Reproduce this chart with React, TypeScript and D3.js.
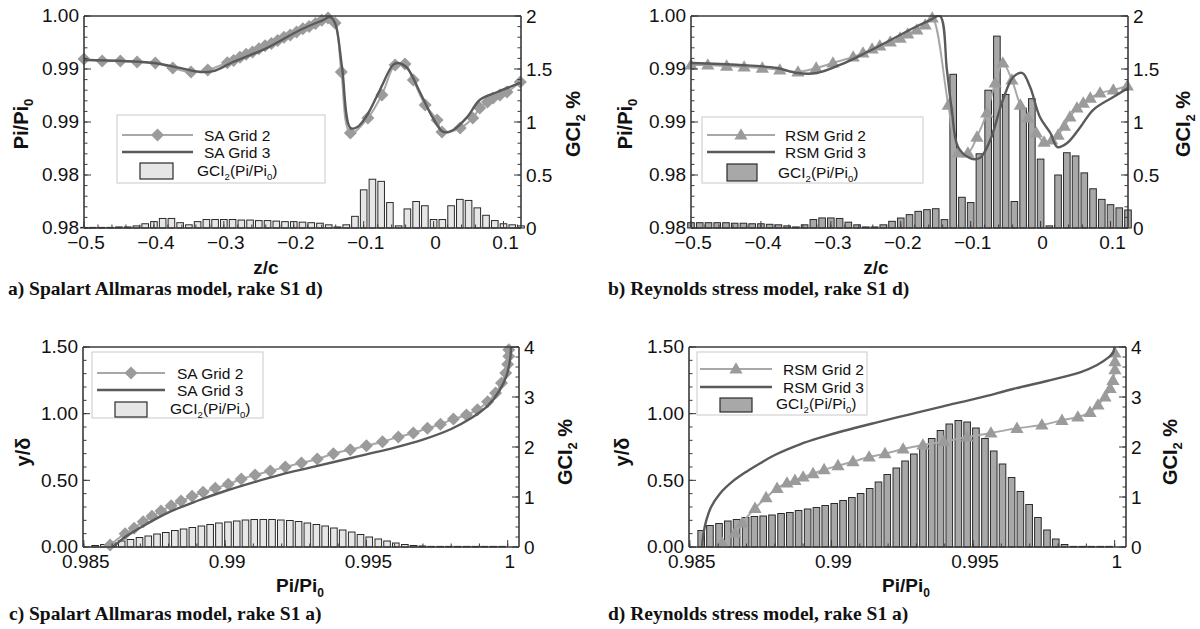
import React from "react";
import * as d3 from "d3";

// ---- rake S1 d) : spanwise stations (z/c) and GCI bars
const zStations = [-0.5, -0.4875, -0.475, -0.4625, -0.45, -0.4375, -0.425, -0.4125, -0.4, -0.3875, -0.375, -0.3625, -0.35, -0.3375, -0.325, -0.3125, -0.3, -0.2875, -0.275, -0.2625, -0.25, -0.2375, -0.225, -0.2125, -0.2, -0.1875, -0.175, -0.1625, -0.15, -0.1375, -0.125, -0.1125, -0.1, -0.0875, -0.075, -0.0625, -0.05, -0.0375, -0.025, -0.0125, 0, 0.0125, 0.025, 0.0375, 0.05, 0.0625, 0.075, 0.0875, 0.1, 0.1125, 0.125];
const gciSaS1d = [0.005, 0.005, 0.005, 0.005, 0.01, 0.01, 0.02, 0.04, 0.06, 0.09, 0.09, 0.05, 0.03, 0.06, 0.08, 0.08, 0.08, 0.08, 0.075, 0.075, 0.07, 0.07, 0.065, 0.06, 0.06, 0.055, 0.05, 0.045, 0.03, 0.01, 0.03, 0.11, 0.36, 0.46, 0.44, 0.24, 0.02, 0.18, 0.25, 0.21, 0.08, 0.08, 0.21, 0.27, 0.26, 0.19, 0.12, 0.07, 0.04, 0.03, 0.02];
const gciRsmS1d = [0.05, 0.05, 0.05, 0.05, 0.05, 0.045, 0.045, 0.04, 0.04, 0.035, 0.03, 0.02, 0.01, 0.03, 0.08, 0.095, 0.095, 0.09, 0.055, 0.03, 0.01, 0.01, 0.03, 0.063, 0.094, 0.126, 0.157, 0.173, 0.182, 0.079, 1.45, 0.29, 0.24, 0.7, 1.3, 1.81, 1.26, 0.25, 1.13, 1.22, 0.65, 0.02, 0.5, 0.71, 0.68, 0.52, 0.37, 0.27, 0.22, 0.19, 0.17];

const saG2Z = [-0.5, -0.474, -0.448, -0.424, -0.398, -0.373, -0.347, -0.323, -0.295, -0.286, -0.277, -0.268, -0.259, -0.25, -0.241, -0.232, -0.223, -0.214, -0.205, -0.196, -0.187, -0.178, -0.169, -0.16, -0.151, -0.141, -0.132, -0.119, -0.094, -0.074, -0.055, -0.041, -0.029, -0.012, 0.005, 0.012, 0.038, 0.056, 0.066, 0.077, 0.085, 0.095, 0.105, 0.124];
const saG2Pi = [0.99594, 0.99575, 0.99575, 0.99566, 0.99557, 0.9951, 0.99472, 0.99491, 0.9956, 0.9958, 0.9961, 0.9964, 0.9966, 0.9969, 0.9972, 0.9974, 0.9977, 0.998, 0.9982, 0.9985, 0.9988, 0.999, 0.9993, 0.9996, 0.9998, 0.99934, 0.99472, 0.98896, 0.99038, 0.99255, 0.99538, 0.99547, 0.99396, 0.9916, 0.99019, 0.98906, 0.98943, 0.99038, 0.99132, 0.99189, 0.99226, 0.99255, 0.99283, 0.99377];
const saG3Z = [-0.5, -0.401, -0.363, -0.334, -0.315, -0.287, -0.238, -0.191, -0.158, -0.148, -0.141, -0.131, -0.119, -0.109, -0.095, -0.077, -0.058, -0.051, -0.038, -0.019, -0.001, 0.014, 0.028, 0.048, 0.066, 0.091, 0.124];
const saG3Pi = [0.99585, 0.99557, 0.9951, 0.99472, 0.9948, 0.99566, 0.997, 0.99868, 0.99962, 0.9999, 0.99934, 0.99519, 0.98943, 0.98953, 0.99066, 0.993, 0.99538, 0.99557, 0.9951, 0.99274, 0.99038, 0.98906, 0.98925, 0.99047, 0.99208, 0.99283, 0.99368];

const rsmG2Z = [-0.5, -0.476, -0.449, -0.424, -0.398, -0.373, -0.347, -0.321, -0.297, -0.268, -0.254, -0.241, -0.23, -0.215, -0.201, -0.19, -0.177, -0.165, -0.155, -0.132, -0.118, -0.104, -0.091, -0.077, -0.065, -0.054, -0.041, -0.029, -0.018, -0.006, 0.005, 0.016, 0.025, 0.034, 0.042, 0.052, 0.061, 0.071, 0.085, 0.104, 0.124];
const rsmG2Pi = [0.99538, 0.99538, 0.99528, 0.99519, 0.99509, 0.99491, 0.99472, 0.99509, 0.99557, 0.99613, 0.99651, 0.99689, 0.99717, 0.99755, 0.99792, 0.9983, 0.99868, 0.99915, 0.99981, 0.9916, 0.98708, 0.98708, 0.98858, 0.99085, 0.99368, 0.99557, 0.99396, 0.9916, 0.99038, 0.98896, 0.98811, 0.9883, 0.98877, 0.98962, 0.99047, 0.99132, 0.99179, 0.99226, 0.99274, 0.99302, 0.9934];
const rsmG3Z = [-0.5, -0.43, -0.377, -0.348, -0.32, -0.287, -0.248, -0.201, -0.182, -0.158, -0.144, -0.134, -0.127, -0.118, -0.101, -0.087, -0.072, -0.054, -0.039, -0.026, -0.015, -0.001, 0.014, 0.024, 0.038, 0.057, 0.075, 0.104, 0.125];
const rsmG3Pi = [0.99557, 0.99538, 0.99509, 0.99462, 0.99462, 0.99538, 0.9966, 0.99821, 0.99887, 0.99962, 1.0, 0.99491, 0.99113, 0.98764, 0.9866, 0.9866, 0.9883, 0.99208, 0.99425, 0.99462, 0.9933, 0.99047, 0.98896, 0.98764, 0.98802, 0.98953, 0.99113, 0.99236, 0.99321];

// ---- rake S1 a) : profiles over Pi/Pi0 and GCI bars
const piStations = [0.9854, 0.98571, 0.98603, 0.98634, 0.98665, 0.98697, 0.98728, 0.98759, 0.9879, 0.98822, 0.98853, 0.98884, 0.98916, 0.98947, 0.98978, 0.9901, 0.99041, 0.99072, 0.99103, 0.99135, 0.99166, 0.99197, 0.99229, 0.9926, 0.99291, 0.99323, 0.99354, 0.99385, 0.99416, 0.99448, 0.99479, 0.9951, 0.99542, 0.99573, 0.99604, 0.99636, 0.99667, 0.99698, 0.99729, 0.99761, 0.99792, 0.99823, 0.99855, 0.99886, 0.99917, 0.99949, 0.9998];
const gciSaS1a = [0.03, 0.05, 0.08, 0.12, 0.15, 0.19, 0.22, 0.26, 0.29, 0.33, 0.36, 0.39, 0.42, 0.45, 0.48, 0.5, 0.52, 0.54, 0.55, 0.55, 0.55, 0.54, 0.53, 0.51, 0.48, 0.45, 0.42, 0.38, 0.34, 0.3, 0.25, 0.2, 0.16, 0.12, 0.08, 0.05, 0.03, 0.02, 0.01, 0.005, 0.005, 0.005, 0.005, 0.005, 0.005, 0.005, 0.005];
const gciRsmS1a = [0.33, 0.43, 0.47, 0.52, 0.55, 0.59, 0.61, 0.62, 0.64, 0.67, 0.69, 0.73, 0.76, 0.79, 0.83, 0.87, 0.93, 0.99, 1.07, 1.17, 1.3, 1.45, 1.58, 1.72, 1.86, 2.0, 2.17, 2.33, 2.46, 2.53, 2.5, 2.38, 2.17, 1.92, 1.66, 1.39, 1.11, 0.85, 0.59, 0.34, 0.16, 0.05, 0.01, 0.01, 0.01, 0.01, 0.01];

const saG2PiA = [0.98593, 0.98646, 0.98678, 0.9871, 0.98741, 0.98773, 0.98809, 0.98844, 0.98883, 0.98922, 0.98965, 0.99011, 0.99057, 0.99106, 0.9916, 0.99213, 0.9927, 0.99326, 0.99383, 0.99443, 0.995, 0.99557, 0.99613, 0.99666, 0.99716, 0.99762, 0.99808, 0.99854, 0.99893, 0.99929, 0.99957, 0.99978, 0.99993, 1.0, 1.00004, 1.00004];
const saG2YA = [0.015, 0.1, 0.14, 0.19, 0.23, 0.27, 0.31, 0.345, 0.38, 0.41, 0.44, 0.47, 0.51, 0.54, 0.57, 0.6, 0.63, 0.66, 0.7, 0.73, 0.76, 0.79, 0.825, 0.855, 0.89, 0.92, 0.96, 0.99, 1.03, 1.09, 1.155, 1.23, 1.305, 1.37, 1.43, 1.48];
const saG3PiA = [0.98603, 0.9865, 0.9872, 0.988, 0.989, 0.99, 0.991, 0.992, 0.993, 0.994, 0.995, 0.996, 0.997, 0.998, 0.9987, 0.9993, 0.9997, 0.99995, 1.00008, 1.00012];
const saG3YA = [0, 0.08, 0.17, 0.26, 0.345, 0.42, 0.485, 0.545, 0.595, 0.645, 0.695, 0.745, 0.805, 0.885, 0.965, 1.06, 1.17, 1.28, 1.4, 1.5];

const rsmG2PiA = [0.98614, 0.98659, 0.98684, 0.9873, 0.98769, 0.98808, 0.98843, 0.98871, 0.989, 0.98935, 0.98974, 0.99023, 0.99076, 0.99133, 0.99189, 0.99253, 0.99323, 0.99397, 0.99479, 0.99563, 0.99655, 0.99743, 0.99814, 0.9987, 0.99913, 0.99941, 0.99966, 0.99984, 0.99994, 1.00001, 1.00001, 1.00001];
const rsmG2YA = [0.03, 0.105, 0.18, 0.29, 0.37, 0.44, 0.48, 0.5, 0.525, 0.55, 0.58, 0.61, 0.64, 0.675, 0.7, 0.735, 0.765, 0.79, 0.825, 0.855, 0.89, 0.915, 0.95, 0.975, 1.01, 1.065, 1.125, 1.19, 1.25, 1.33, 1.39, 1.455];
const rsmG3PiA = [0.98543, 0.98548, 0.98558, 0.98575, 0.98606, 0.9865, 0.987, 0.9875, 0.988, 0.98889, 0.9896, 0.99041, 0.99161, 0.99277, 0.99394, 0.99524, 0.99641, 0.99761, 0.99878, 0.99938, 0.99977, 0.99995, 0.99999];
const rsmG3YA = [0, 0.1, 0.2, 0.3, 0.4, 0.49, 0.565, 0.63, 0.69, 0.77, 0.82, 0.87, 0.935, 0.995, 1.055, 1.12, 1.185, 1.245, 1.31, 1.365, 1.42, 1.46, 1.5];

// ---- ticks
const zTicks = [-0.5, -0.4, -0.3, -0.2, -0.1, 0, 0.1];
const zTickLabels = ["\u22120.5", "\u22120.4", "\u22120.3", "\u22120.2", "\u22120.1", "0", "0.1"];
const ratioTicks = [0.98, 0.985, 0.99, 0.995, 1.0];
const ratioTickLabels = ["0.98", "0.98", "0.99", "0.99", "1.00"];
const gciTicksD = [0, 0.5, 1, 1.5, 2];
const gciTickLabelsD = ["0", "0.5", "1", "1.5", "2"];
const piTicks = [0.985, 0.99, 0.995, 1];
const piTickLabels = ["0.985", "0.99", "0.995", "1"];
const yTicks = [0, 0.5, 1, 1.5];
const yTickLabels = ["0.00", "0.50", "1.00", "1.50"];
const gciTicksA = [0, 1, 2, 3, 4];
const gciTickLabelsA = ["0", "1", "2", "3", "4"];

const SANS = "'Liberation Sans', Arial, Helvetica, sans-serif";
const SERIF = "'Liberation Serif', 'Times New Roman', serif";
const AXIS = "#3a3a3a";
const G2_LINE = "#a8a8a8";
const G2_MARK = "#9b9b9b";
const G3_LINE = "#5a5a5a";
const MARKS: Record<string, string> = {
  diamond: "M0,-6.5L6.5,0L0,6.5L-6.5,0Z",
  triangle: "M0,-6.8L6.6,4.6L-6.6,4.6Z",
};

const minor = (a: number, b: number, step: number) =>
  d3.range(Math.round((b - a) / step) + 1).map((i) => a + i * step);

function Gci({ x, y, size }: { x: number; y: number; size: number }) {
  const s = size * 0.62;
  return (
    <text x={x} y={y} fontSize={size} fontFamily={SANS} fill="#111">
      GCI<tspan dy={4} fontSize={s}>2</tspan>
      <tspan dy={-4}>(Pi/Pi</tspan>
      <tspan dy={4} fontSize={s}>0</tspan>
      <tspan dy={-4}>)</tspan>
    </text>
  );
}

type PanelProps = {
  id: string;
  left: number; top: number; width: number; height: number;
  xDomain: [number, number]; yDomain: [number, number]; y2Domain: [number, number];
  xTicks: number[]; xLabels: string[]; xMinor: number[];
  yTicks: number[]; yLabels: string[]; yMinor: number[];
  y2Ticks: number[]; y2Labels: string[]; y2Minor: number[];
  barX: number[]; barV: number[]; barFill: string;
  g2x: number[]; g2y: number[]; g3x: number[]; g3y: number[];
  marker: string; names: [string, string];
  legend: { x: number; y: number; w: number; h: number; r1: number; r2: number; lx1: number; lx2: number; tx: number; bx: number; by: number; bw: number; bh: number };
  xTitle: "zc" | "pi"; xTitleX: number; xTitleY: number;
  yTitle: "pi" | "yd"; yTitleX: number; y2TitleX: number; titleCY: number;
  caption: string; captionX: number; captionY: number;
};

function Panel(p: PanelProps) {
  const x = d3.scaleLinear().domain(p.xDomain).range([p.left, p.left + p.width]);
  const y = d3.scaleLinear().domain(p.yDomain).range([p.top + p.height, p.top]);
  const y2 = d3.scaleLinear().domain(p.y2Domain).range([p.top + p.height, p.top]);
  const bottom = p.top + p.height;
  const right = p.left + p.width;
  const path = d3
    .line<[number, number]>()
    .x((d) => x(d[0]))
    .y((d) => y(d[1]))
    .curve(d3.curveCatmullRom.alpha(0.5));
  const g2 = d3.zip(p.g2x, p.g2y) as [number, number][];
  const g3 = d3.zip(p.g3x, p.g3y) as [number, number][];
  const bw = 6.6;
  const L = p.legend;
  const tick = { stroke: AXIS, strokeWidth: 1 };

  return (
    <g>
      <defs>
        <clipPath id={`clip-${p.id}`}>
          <rect x={p.left} y={p.top - 1} width={p.width} height={p.height + 2} />
        </clipPath>
      </defs>

      {/* GCI bars */}
      {p.barX.map((bx, i) => {
        const v = p.barV[i];
        const h = Math.max(y2(0) - y2(v), 0.6);
        return (
          <rect key={i} x={x(bx) - bw / 2} y={bottom - h} width={bw} height={h}
            fill={p.barFill} stroke="#2a2a2a" strokeWidth={1} />
        );
      })}

      <g clipPath={`url(#clip-${p.id})`}>
        <path d={path(g2) ?? ""} fill="none" stroke={G2_LINE} strokeWidth={2} />
      </g>
      {g2.map((d, i) => (
        <path key={i} d={MARKS[p.marker]} transform={`translate(${x(d[0])},${y(d[1])})`} fill={G2_MARK} />
      ))}
      <g clipPath={`url(#clip-${p.id})`}>
        <path d={path(g3) ?? ""} fill="none" stroke={G3_LINE} strokeWidth={2.4} />
      </g>

      {/* frame */}
      <line x1={p.left} x2={right} y1={p.top} y2={p.top} stroke={AXIS} strokeWidth={1.6} />
      <line x1={p.left} x2={right} y1={bottom} y2={bottom} stroke={AXIS} strokeWidth={1.6} />
      <line x1={p.left} x2={p.left} y1={p.top} y2={bottom} stroke={AXIS} strokeWidth={1.6} />
      <line x1={right} x2={right} y1={p.top} y2={bottom} stroke={AXIS} strokeWidth={1.6} />

      {/* ticks */}
      {p.xMinor.map((t, i) => (
        <line key={`xm${i}`} x1={x(t)} x2={x(t)} y1={bottom} y2={bottom - 3.5} {...tick} />
      ))}
      {p.xTicks.map((t, i) => (
        <line key={`xt${i}`} x1={x(t)} x2={x(t)} y1={bottom} y2={bottom - 7} {...tick} />
      ))}
      {p.yMinor.map((t, i) => (
        <line key={`ym${i}`} x1={p.left} x2={p.left + 3.5} y1={y(t)} y2={y(t)} {...tick} />
      ))}
      {p.yTicks.map((t, i) => (
        <line key={`yt${i}`} x1={p.left} x2={p.left + 7} y1={y(t)} y2={y(t)} {...tick} />
      ))}
      {p.y2Minor.map((t, i) => (
        <line key={`rm${i}`} x1={right} x2={right - 3.5} y1={y2(t)} y2={y2(t)} {...tick} />
      ))}
      {p.y2Ticks.map((t, i) => (
        <line key={`rt${i}`} x1={right} x2={right - 7} y1={y2(t)} y2={y2(t)} {...tick} />
      ))}

      <g fontFamily={SANS} fontSize={19} fill="#111">
        {p.xTicks.map((t, i) => (
          <text key={`xl${i}`} x={x(t) + 2} y={bottom + 21} textAnchor="middle">{p.xLabels[i]}</text>
        ))}
        {p.yTicks.map((t, i) => (
          <text key={`yl${i}`} x={p.left - 5} y={y(t)} dy="0.34em" textAnchor="end">{p.yLabels[i]}</text>
        ))}
        {p.y2Ticks.map((t, i) => (
          <text key={`rl${i}`} x={right + 5} y={y2(t)} dy="0.36em" textAnchor="start">{p.y2Labels[i]}</text>
        ))}
      </g>

      {/* axis titles */}
      <g fontFamily={SANS} fontWeight="bold" fill="#111">
        {p.xTitle === "zc" ? (
          <text x={p.xTitleX} y={p.xTitleY} fontSize={19} textAnchor="middle">z/c</text>
        ) : (
          <text x={p.xTitleX} y={p.xTitleY} fontSize={19} textAnchor="middle">
            Pi/Pi<tspan dy={5} fontSize={12}>0</tspan>
          </text>
        )}
        <text transform={`translate(${p.yTitleX},${p.titleCY}) rotate(-90)`} fontSize={20} textAnchor="middle">
          {p.yTitle === "pi" ? (
            <>Pi/Pi<tspan dy={5} fontSize={13}>0</tspan></>
          ) : (
            "y/\u03b4"
          )}
        </text>
        <text transform={`translate(${p.y2TitleX},${p.titleCY}) rotate(-90)`} fontSize={20} textAnchor="middle">
          GCI<tspan dy={5} fontSize={13}>2</tspan><tspan dy={-5}> %</tspan>
        </text>
      </g>

      {/* legend */}
      <rect x={L.x} y={L.y} width={L.w} height={L.h} fill="#fff" stroke="#c9c9c9" strokeWidth={1} />
      <line x1={L.lx1} x2={L.lx2} y1={L.r1} y2={L.r1} stroke={G2_LINE} strokeWidth={2} />
      <path d={MARKS[p.marker]} transform={`translate(${(L.lx1 + L.lx2) / 2},${L.r1})`} fill={G2_MARK} />
      <line x1={L.lx1} x2={L.lx2} y1={L.r2} y2={L.r2} stroke={G3_LINE} strokeWidth={2.4} />
      <g fontFamily={SANS} fontSize={15.5} fill="#111">
        <text x={L.tx} y={L.r1 + 5.5}>{p.names[0]}</text>
        <text x={L.tx} y={L.r2 + 5.5}>{p.names[1]}</text>
      </g>
      <rect x={L.bx} y={L.by} width={L.bw} height={L.bh} fill={p.barFill} stroke="#2a2a2a" strokeWidth={1.2} />
      <Gci x={L.tx - 7} y={L.by + L.bh - 3} size={15.5} />

      <text x={p.captionX} y={p.captionY} fontFamily={SERIF} fontWeight="bold" fontSize={19.5} fill="#111">
        {p.caption}
      </text>
    </g>
  );
}

const common = {
  zMinor: minor(-0.5, 0.12, 0.02),
  ratioMinor: minor(0.98, 1.0, 0.001),
  gciMinorD: minor(0, 2, 0.1),
  piMinor: minor(0.985, 1.0, 0.001),
  yMinor: minor(0, 1.5, 0.1),
  gciMinorA: minor(0, 4, 0.2),
};

export default function App() {
  const topRow = {
    top: 16, width: 437, height: 212,
    xDomain: [-0.5, 0.125] as [number, number],
    yDomain: [0.98, 1.0] as [number, number],
    y2Domain: [0, 2] as [number, number],
    xTicks: zTicks, xLabels: zTickLabels, xMinor: common.zMinor,
    yTicks: ratioTicks, yLabels: ratioTickLabels, yMinor: common.ratioMinor,
    y2Ticks: gciTicksD, y2Labels: gciTickLabelsD, y2Minor: common.gciMinorD,
    barX: zStations,
    xTitle: "zc" as const, xTitleY: 274,
    yTitle: "pi" as const, titleCY: 124,
    captionY: 295,
  };
  const botRow = {
    top: 347, height: 200,
    xDomain: [0.98497, 1.0004] as [number, number],
    yDomain: [0, 1.5] as [number, number],
    y2Domain: [0, 4] as [number, number],
    xTicks: piTicks, xLabels: piTickLabels, xMinor: common.piMinor,
    yTicks: yTicks, yLabels: yTickLabels, yMinor: common.yMinor,
    y2Ticks: gciTicksA, y2Labels: gciTickLabelsA, y2Minor: common.gciMinorA,
    barX: piStations,
    xTitle: "pi" as const, xTitleY: 592,
    yTitle: "yd" as const, titleCY: 452,
    captionY: 620,
  };
  return (
    <svg width={1200} height={629} viewBox="0 0 1200 629"
      style={{ position: "absolute", left: 0, top: 0, background: "#fff" }}>
      <rect width={1200} height={629} fill="#fff" />
      <Panel id="a" {...topRow} left={84}
        barV={gciSaS1d} barFill="#e6e6e6"
        g2x={saG2Z} g2y={saG2Pi} g3x={saG3Z} g3y={saG3Pi}
        marker="diamond" names={["SA Grid 2", "SA Grid 3"]}
        legend={{ x: 117, y: 115, w: 208, h: 68, r1: 135, r2: 152, lx1: 122, lx2: 193, tx: 204, bx: 140, by: 163, bw: 33, bh: 16 }}
        xTitleX={266} yTitleX={28} y2TitleX={580}
        caption="a) Spalart Allmaras model, rake S1 d)" captionX={8} />
      <Panel id="b" {...topRow} left={691}
        barV={gciRsmS1d} barFill="#a8a8a8"
        g2x={rsmG2Z} g2y={rsmG2Pi} g3x={rsmG3Z} g3y={rsmG3Pi}
        marker="triangle" names={["RSM Grid 2", "RSM Grid 3"]}
        legend={{ x: 702, y: 117, w: 221, h: 66, r1: 135, r2: 152, lx1: 707, lx2: 775, tx: 785, bx: 727, by: 164, bw: 30, bh: 17 }}
        xTitleX={876} yTitleX={632} y2TitleX={1190}
        caption="b) Reynolds stress model, rake S1 d)" captionX={608} />
      <Panel id="c" {...botRow} left={83} width={436}
        barV={gciSaS1a} barFill="#e6e6e6"
        g2x={saG2PiA} g2y={saG2YA} g3x={saG3PiA} g3y={saG3YA}
        marker="diamond" names={["SA Grid 2", "SA Grid 3"]}
        legend={{ x: 92, y: 352, w: 171, h: 66, r1: 373, r2: 390, lx1: 97, lx2: 165, tx: 177, bx: 115, by: 402, bw: 32, bh: 15 }}
        xTitleX={300} yTitleX={30} y2TitleX={572}
        caption="c) Spalart Allmaras model, rake S1 a)" captionX={9} />
      <Panel id="d" {...botRow} left={689} width={437}
        barV={gciRsmS1a} barFill="#a8a8a8"
        g2x={rsmG2PiA} g2y={rsmG2YA} g3x={rsmG3PiA} g3y={rsmG3YA}
        marker="triangle" names={["RSM Grid 2", "RSM Grid 3"]}
        legend={{ x: 697, y: 352, w: 170, h: 63, r1: 369, r2: 387, lx1: 700, lx2: 772, tx: 783, bx: 720, by: 398, bw: 32, bh: 14 }}
        xTitleX={906} yTitleX={629} y2TitleX={1177}
        caption="d) Reynolds stress model, rake S1 a)" captionX={608} />
    </svg>
  );
}
